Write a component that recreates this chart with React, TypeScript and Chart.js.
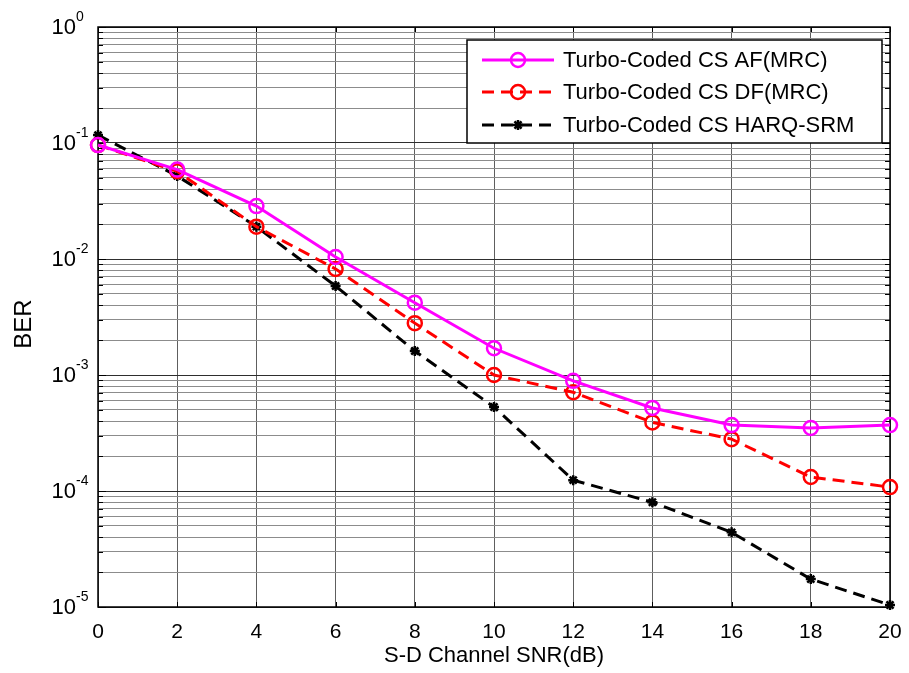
import React, { useEffect, useRef } from "react";
import { Chart, registerables } from "chart.js";

Chart.register(...registerables);

// S-D channel SNR in dB
const snr = [0, 2, 4, 6, 8, 10, 12, 14, 16, 18, 20];

// Bit error rate of each scheme
const berAF = [0.096, 0.059, 0.0286, 0.0104, 0.0042, 0.0017, 0.00089, 0.00052, 0.00037, 0.00035, 0.00037];
const berDF = [0.096, 0.057, 0.019, 0.0082, 0.0028, 0.001, 0.00071, 0.00039, 0.00028, 0.000132, 0.000108];
const berHARQ = [0.117, 0.052, 0.019, 0.00585, 0.00161, 0.00053, 0.000124, 0.00008, 0.000044, 0.0000174, 0.0000104];

const seriesNames = [
  "Turbo-Coded CS AF(MRC)",
  "Turbo-Coded CS DF(MRC)",
  "Turbo-Coded CS HARQ-SRM",
];

// decade exponents labelled on the y axis
const yExponents = [0, -1, -2, -3, -4, -5];
const xTicks = [0, 2, 4, 6, 8, 10, 12, 14, 16, 18, 20];

const xTitle = "S-D Channel SNR(dB)";
const yTitle = "BER";

const FONT = "'Liberation Sans', Arial, Helvetica, sans-serif";

const seriesStyles = [
  { color: "#ff00ff", dash: [] as number[], point: "circle", radius: 7, pw: 2.5 },
  { color: "#ff0000", dash: [12, 7], point: "circle", radius: 7, pw: 2.5 },
  { color: "#000000", dash: [12, 7], point: "star", radius: 5, pw: 2.5 },
];

const frameAndLabels = {
  id: "frameAndLabels",
  beforeDatasetsDraw(chart: any) {
    const { ctx, chartArea: a, scales } = chart;
    const ys = scales.y;
    const xs = scales.x;
    ctx.save();
    ctx.strokeStyle = "#000";
    ctx.lineWidth = 1;
    // inner tick marks on all four sides
    ctx.beginPath();
    for (const t of ys.ticks) {
      const y = Math.round(ys.getPixelForValue(t.value)) + 0.5;
      const m = t.value / Math.pow(10, Math.floor(Math.log10(t.value) + 1e-9));
      const len = Math.abs(m - 1) < 1e-6 ? 8 : 5;
      ctx.moveTo(a.left, y);
      ctx.lineTo(a.left + len, y);
      ctx.moveTo(a.right, y);
      ctx.lineTo(a.right - len, y);
    }
    for (const v of xTicks) {
      const x = Math.round(xs.getPixelForValue(v)) + 0.5;
      ctx.moveTo(x, a.top);
      ctx.lineTo(x, a.top + 5);
      ctx.moveTo(x, a.bottom);
      ctx.lineTo(x, a.bottom - 5);
    }
    ctx.stroke();
    // frame
    ctx.lineWidth = 1.5;
    ctx.strokeRect(a.left, a.top, a.right - a.left, a.bottom - a.top);
    ctx.restore();
  },
  afterDraw(chart: any) {
    const { ctx, scales } = chart;
    const ys = scales.y;
    ctx.save();
    ctx.fillStyle = "#000";
    // y tick labels as powers of ten
    for (const e of yExponents) {
      const y = ys.getPixelForValue(Math.pow(10, e));
      ctx.font = `22px ${FONT}`;
      ctx.textAlign = "right";
      ctx.textBaseline = "middle";
      ctx.fillText("10", 76, y + 1);
      ctx.font = `14px ${FONT}`;
      ctx.textAlign = "left";
      ctx.fillText(String(e), 76, y - 10);
    }
    // y axis title
    ctx.save();
    ctx.translate(24, 324);
    ctx.rotate(-Math.PI / 2);
    ctx.font = `24px ${FONT}`;
    ctx.textAlign = "center";
    ctx.textBaseline = "middle";
    ctx.fillText(yTitle, 0, 0);
    ctx.restore();

    // legend
    const bx = 467, by = 40, bw = 415, bh = 103;
    ctx.fillStyle = "#fff";
    ctx.fillRect(bx, by, bw, bh);
    ctx.strokeStyle = "#000";
    ctx.lineWidth = 1.5;
    ctx.strokeRect(bx, by, bw, bh);
    const rows = [60, 92, 125];
    seriesNames.forEach((name, i) => {
      const st = seriesStyles[i];
      const y = rows[i];
      ctx.save();
      ctx.strokeStyle = st.color;
      ctx.lineWidth = 3;
      ctx.setLineDash(st.dash);
      ctx.beginPath();
      ctx.moveTo(482, y);
      ctx.lineTo(554, y);
      ctx.stroke();
      ctx.setLineDash([]);
      ctx.lineWidth = st.pw;
      if (st.point === "circle") {
        ctx.beginPath();
        ctx.arc(518, y, st.radius, 0, Math.PI * 2);
        ctx.stroke();
      } else {
        const r = st.radius;
        ctx.beginPath();
        for (let k = 0; k < 4; k++) {
          const ang = (k * Math.PI) / 4;
          ctx.moveTo(518 + Math.cos(ang) * r, y + Math.sin(ang) * r);
          ctx.lineTo(518 - Math.cos(ang) * r, y - Math.sin(ang) * r);
        }
        ctx.stroke();
      }
      ctx.restore();
      ctx.fillStyle = "#000";
      ctx.font = `22px ${FONT}`;
      ctx.textAlign = "left";
      ctx.textBaseline = "middle";
      ctx.fillText(name, 563, y + 1);
    });
    ctx.restore();
  },
};

export default function App() {
  const ref = useRef<HTMLCanvasElement>(null);

  useEffect(() => {
    const canvas = ref.current;
    if (!canvas) return;
    const values = [berAF, berDF, berHARQ];
    const chart = new Chart(canvas, {
      type: "line",
      data: {
        datasets: values.map((vals, i) => {
          const st = seriesStyles[i];
          return {
            label: seriesNames[i],
            data: snr.map((x, j) => ({ x, y: vals[j] })),
            borderColor: st.color,
            borderWidth: 3,
            borderDash: st.dash,
            pointStyle: st.point as any,
            pointRadius: st.radius,
            pointBorderWidth: st.pw,
            pointBorderColor: st.color,
            pointBackgroundColor: "rgba(0,0,0,0)",
            tension: 0,
            fill: false,
            clip: false as any,
          };
        }),
      },
      options: {
        responsive: false,
        animation: false,
        devicePixelRatio: 1,
        layout: { padding: { top: 27, right: 19, left: 0, bottom: 0 } },
        plugins: {
          legend: { display: false },
          tooltip: { enabled: false },
        },
        scales: {
          x: {
            type: "linear",
            min: 0,
            max: 20,
            afterBuildTicks: (scale: any) => {
              scale.ticks = xTicks.map((v) => ({ value: v }));
            },
            afterFit: (scale: any) => {
              scale.height = 66;
              scale.paddingLeft = 0;
              scale.paddingRight = 0;
            },
            ticks: {
              color: "#000",
              font: { family: FONT, size: 21 },
              padding: 13,
              maxRotation: 0,
              callback: (v: any) => String(v),
            },
            grid: { color: "#5e5e5e", lineWidth: 1, drawTicks: false },
            border: { display: false },
            title: {
              display: true,
              text: xTitle,
              color: "#000",
              font: { family: FONT, size: 22 },
              padding: { top: 0, bottom: 4 },
            },
          },
          y: {
            type: "logarithmic",
            min: 1e-5,
            max: 1,
            afterBuildTicks: (scale: any) => {
              const ticks: { value: number }[] = [];
              for (let e = -5; e < 0; e++) {
                for (let m = 1; m <= 9; m++) ticks.push({ value: m * Math.pow(10, e) });
              }
              ticks.push({ value: 1 });
              scale.ticks = ticks;
            },
            afterFit: (scale: any) => {
              scale.width = 98;
            },
            ticks: { display: false },
            grid: {
              drawTicks: false,
              lineWidth: 1,
              color: (c: any) => {
                const v = c.tick ? c.tick.value : 1;
                const m = v / Math.pow(10, Math.floor(Math.log10(v) + 1e-9));
                return Math.abs(m - 1) < 1e-6 ? "#2e2e2e" : "#8c8c8c";
              },
            },
            border: { display: false },
          },
        },
      },
      plugins: [frameAndLabels],
    });
    return () => chart.destroy();
  }, []);

  return (
    <div style={{ position: "absolute", left: 0, top: 0, width: 909, height: 673, background: "#fff" }}>
      <canvas ref={ref} width={909} height={673} style={{ display: "block" }} />
    </div>
  );
}
